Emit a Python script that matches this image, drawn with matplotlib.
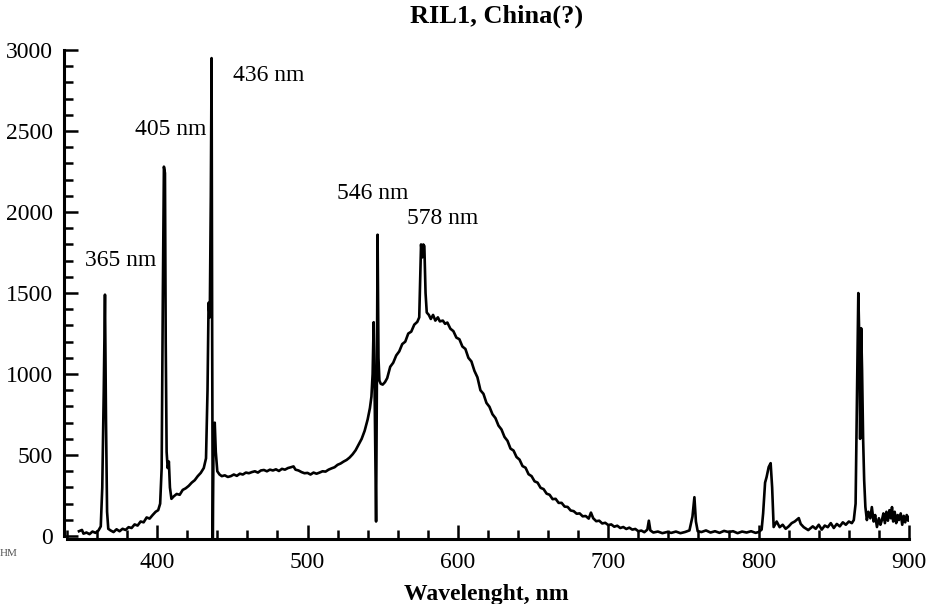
import matplotlib.pyplot as plt
from matplotlib.ticker import MultipleLocator


# 光谱数据：波长 (nm) 与强度
wavelength = [
    348, 350, 351, 353, 355, 357, 359, 361, 362.5, 363.5, 364.5, 365.3, 366, 366.7, 367.5,
    369, 371, 373, 375, 377, 379, 381, 383, 385, 387, 389, 391, 393, 395, 397, 399, 400.7,
    402, 403, 403.8, 404.5, 405.2, 405.7, 406.3, 407, 407.8, 408.5, 409.5, 411, 413, 415,
    417, 419, 421, 423, 425, 427, 429, 431, 432.5, 433.5, 434.2, 435, 435.7, 436.2, 436.6,
    437, 437.5, 438.3, 439, 440, 441.5, 443, 445, 447, 449, 451, 453, 455, 457, 459, 461,
    463, 465, 467, 469, 471, 473, 475, 477, 479, 481, 483, 485, 487, 489, 490.7, 492, 494,
    496, 498, 500, 502, 504, 506, 508, 510, 512, 514, 516, 518, 520, 522, 524, 526, 528,
    530, 532, 534, 536, 538, 540, 541.5, 542.5, 543.3, 544, 544.5, 545, 545.6, 546.1,
    546.6, 547.2, 547.8, 548.7, 550, 551.5, 553, 555, 557, 559, 561, 563, 565, 567, 569,
    571, 573, 574.3, 575, 575.5, 576.3, 577, 577.7, 578.5, 579.3, 580.7, 582, 583.5, 585,
    586.7, 588, 590, 591.5, 593, 595, 597, 599, 601, 603, 605, 607, 609, 611, 613, 615,
    617, 619, 621, 623, 625, 627, 629, 631, 633, 635, 637, 639, 641, 643, 645, 647, 649,
    651, 653, 655, 657, 659, 661, 663, 665, 667, 669, 671, 673, 675, 677, 679, 681, 683,
    685, 687, 688.5, 690, 692, 694, 696, 698, 700, 702, 704, 706, 708, 710, 712, 714, 716,
    718, 720, 722, 724, 726, 727, 728, 730, 733, 736, 739, 742, 745, 748, 751, 754, 756,
    757.3, 758.3, 759.5, 762, 765, 768, 771, 774, 777, 780, 783, 786, 789, 792, 795, 798,
    800, 802, 803, 804.3, 805.3, 806.7, 808, 809, 810, 812, 814, 816, 818, 820, 822, 824,
    826.7, 828, 830, 833, 836, 838, 840, 842, 844, 846, 848, 850, 852, 854, 856, 858, 860,
    862, 863.3, 864.5, 865.5, 866.3, 867, 867.5, 868.2, 868.8, 869.5, 870.2, 871, 872, 873,
    874.3, 875.3, 876.5, 877.5, 878.7, 880, 881, 882, 883, 884, 885, 886, 887, 888, 888.7,
    889.5, 890.5, 891.5, 892.5, 893.3, 894.5, 895.5, 896.5, 897.5, 898.5, 899.5, 900,
]
intensity = [
    30, 38, 15, 22, 12, 28, 20, 35, 60, 300, 900, 1490, 700, 150, 45,
    35, 25, 42, 30, 45, 38, 55, 50, 72, 65, 90, 85, 115, 108, 130, 150, 160,
    200, 420, 1500, 2280, 2240, 1200, 520, 420, 460, 300, 230, 245, 260, 255,
    285, 295, 310, 330, 345, 370, 390, 420, 480, 900, 1440, 1350, 2100, 2950, 1200,
    -15, 600, 700, 520, 400, 380, 370, 375, 365, 370, 380, 372, 385, 380, 392, 388,
    395, 400, 392, 405, 408, 400, 410, 405, 412, 402, 415, 410, 420, 425, 430, 410, 405,
    395, 388, 390, 380, 392, 385, 392, 400, 398, 410, 418, 425, 440, 448, 460, 470, 485,
    505, 530, 565, 600, 650, 720, 790, 860, 1000, 1320, 1000, 600, 90, 900,
    1860, 1100, 960, 940, 935, 950, 975, 1045, 1070, 1115, 1140, 1185, 1200, 1250, 1262,
    1305, 1322, 1350, 1600, 1800, 1720, 1800, 1790, 1500, 1380, 1365, 1340, 1365, 1330,
    1350, 1325, 1330, 1310, 1318, 1280, 1265, 1225, 1215, 1170, 1155, 1100, 1078, 1020, 980, 900,
    878, 822, 798, 752, 728, 682, 658, 612, 588, 540, 528, 488, 472, 432, 422, 382, 370,
    338, 330, 298, 290, 262, 255, 228, 230, 205, 205, 182, 180, 158, 154, 138, 140, 122,
    124, 108, 145, 110, 92, 95, 78, 82, 68, 72, 58, 64, 50, 56, 44, 52, 40,
    44, 30, 34, 24, 40, 95, 35, 22, 28, 18, 25, 20, 28, 18, 25, 35, 120,
    240, 90, 30, 25, 35, 22, 30, 20, 32, 25, 30, 18, 28, 22, 30, 20,
    25, 40, 140, 330, 364, 426, 450, 300, 56, 90, 55, 70, 45, 60, 80, 90,
    111, 75, 55, 37, 60, 45, 70, 40, 65, 55, 80, 50, 75, 60, 85, 70, 90,
    80, 99, 200, 900, 1500, 1200, 600, 1283, 1024, 600, 345, 180, 99, 150,
    110, 179, 90, 130, 56, 110, 70, 99, 140, 80, 150, 95, 160, 110, 179,
    90, 150, 80, 130, 99, 140, 70, 125, 85, 130, 95, 117,
]

# 谱线标注
line_labels = ["365 nm", "405 nm", "436 nm", "546 nm", "578 nm"]
label_x = [352, 385.3, 450.7, 519.3, 566]
label_y = [1703, 2511, 2844, 2116, 1962]

y_ticks = [0, 500, 1000, 1500, 2000, 2500, 3000]
x_ticks = [400, 500, 600, 700, 800, 900]


def main() -> None:
    plt.rcParams["font.family"] = ["Liberation Serif", "DejaVu Serif"]

    fig = plt.figure(figsize=(9.4, 6.04), dpi=100)
    ax = fig.add_axes([0.068, 0.1076, 0.899, 0.8096])

    ax.plot(wavelength, intensity, color="black", linewidth=1.9)

    for text, x, y in zip(line_labels, label_x, label_y):
        ax.text(x, y, text, fontsize=17, ha="left", va="center")

    ax.set_xlim(338, 900)
    ax.set_ylim(-18, 3000)
    ax.set_xticks(x_ticks)
    ax.set_yticks(y_ticks)
    ax.xaxis.set_minor_locator(MultipleLocator(20))
    ax.yaxis.set_minor_locator(MultipleLocator(100))

    for side in ["top", "right"]:
        ax.spines[side].set_visible(False)
    ax.spines["left"].set_linewidth(2.2)
    ax.spines["bottom"].set_linewidth(2.2)
    ax.spines["left"].set_bounds(0, 3000)
    ax.spines["bottom"].set_bounds(340, 900)

    ax.tick_params(axis="both", which="major", direction="in", length=10, width=1.8, labelsize=17)
    ax.tick_params(axis="both", which="minor", direction="in", length=6.5, width=1.8)
    ax.tick_params(axis="x", which="major", pad=9)
    ax.tick_params(axis="y", which="major", pad=8)

    ax.set_xlabel("Wavelenght, nm", fontsize=17, fontweight="bold", labelpad=8)
    fig.text(0.528, 0.9735, "RIL1, China(?)", fontsize=19, fontweight="bold", ha="center", va="center")

    # 左下角被裁掉的残余文字
    fig.text(0.0, 1 - 553 / 604, "HM", fontsize=8, color="#555555", ha="left", va="center")

    fig.savefig("out.png", dpi=100)


if __name__ == "__main__":
    main()
